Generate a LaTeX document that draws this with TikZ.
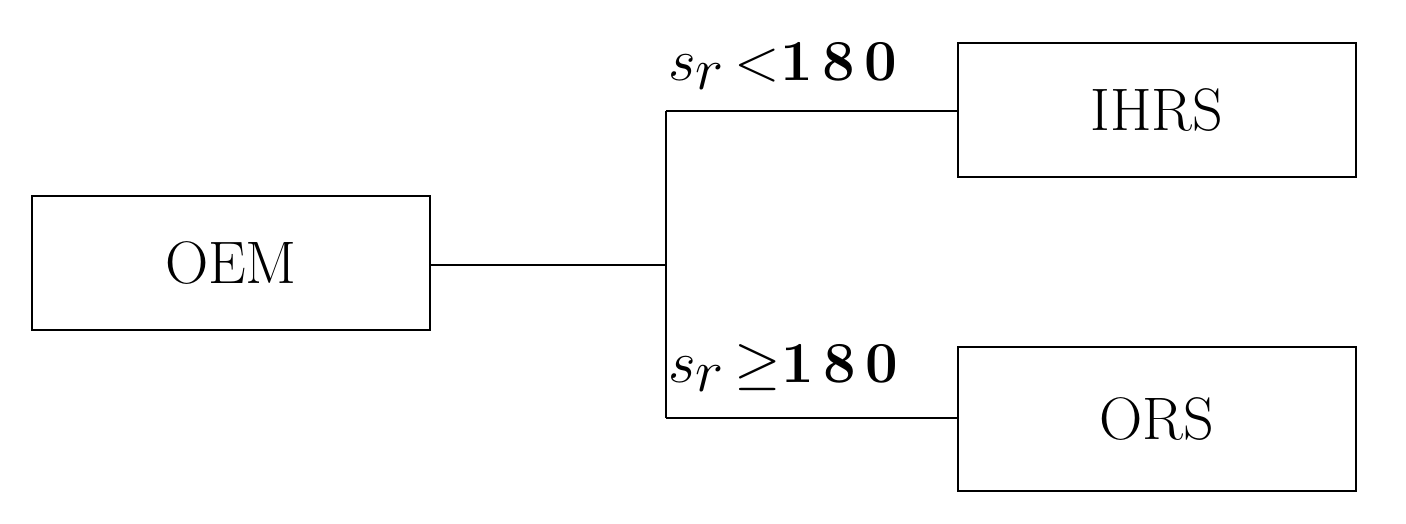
\documentclass[tikz,border=0pt]{standalone}
\usepackage{graphicx}
\begin{document}
\begin{tikzpicture}[x=1pt,y=-1pt,
  box/.style={draw,line width=2pt,minimum width=398pt,inner sep=0pt,font=\fontsize{60}{64}\selectfont},
  ln/.style={line width=2.5pt},
  lab/.style={anchor=south west,inner sep=0pt,font=\fontsize{58}{62}\selectfont}]
\useasboundingbox (0,0) rectangle (1406,523);
\node[box,minimum height=134pt] (oem) at (231,263) {OEM};
\node[box,minimum height=134pt] (ihrs) at (1157,110) {IHRS};
\node[box,minimum height=144pt] (ors) at (1157,419) {ORS};
\coordinate (j) at (666,265);
\coordinate (t) at (666,111);
\coordinate (b) at (666,418);
\draw[ln] (oem.east|-j) -- (j);
\draw[ln] (t) -- (b);
\draw[ln] (t) -- (t-|ihrs.west);
\draw[ln] (b) -- (b-|ors.west);
\node[lab] (l1) at (668,90) {\scalebox{2.4}{$s_r\,{<}$}\textbf{1\,8\,0}};
\node[lab] (l2) at (668,392) {\scalebox{2.4}{$s_r\,{\geq}$}\textbf{1\,8\,0}};
\end{tikzpicture}
\end{document}
